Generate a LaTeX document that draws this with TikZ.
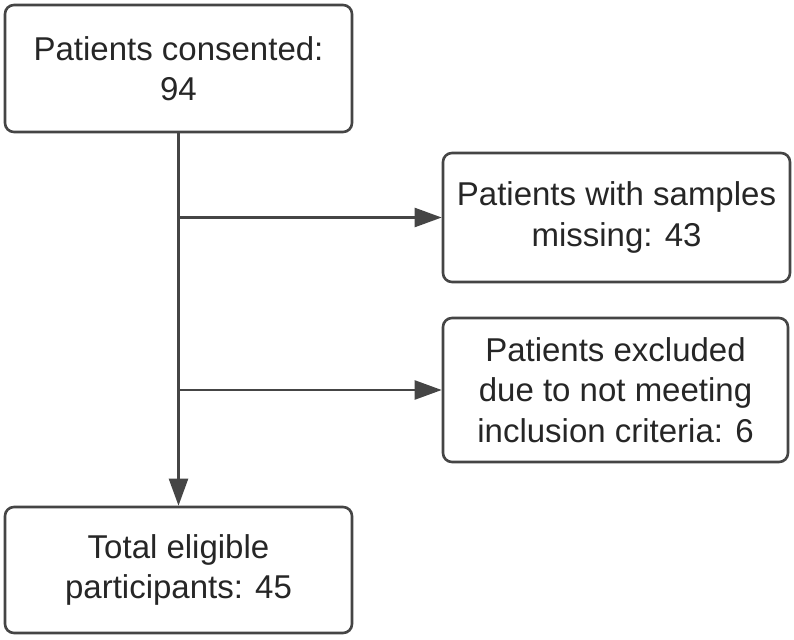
\documentclass[tikz,border=0pt]{standalone}
\usepackage{fontspec}
\setmainfont{Liberation Sans}
\usetikzlibrary{arrows.meta}
\definecolor{linegray}{HTML}{454545}
\definecolor{textgray}{HTML}{262626}
\begin{document}
\begin{tikzpicture}
        [x=1pt,y=-1pt,
         box/.style={draw=linegray,line width=2.6pt,rounded corners=9pt,
           align=center,text=textgray,inner sep=0pt,
           font=\fontsize{33}{40.5}\selectfont},
         arr/.style={draw=linegray,line width=2.4pt,
           -{Triangle[length=27pt,width=19pt]}}]
        \useasboundingbox (0,0) rectangle (794,639);

        \node[box,minimum width=347pt,minimum height=127pt] (consent) at (178.5,68.5)
          {Patients consented:\\94};
        \node[box,minimum width=347pt,minimum height=129pt] (missing) at (616.5,217.5)
          {Patients with samples\\missing: 43};
        \node[box,minimum width=345pt,minimum height=144pt] (excluded) at (615.5,390)
          {Patients excluded\\due to not meeting\\inclusion criteria: 6};
        \node[box,minimum width=347pt,minimum height=126pt] (eligible) at (178.5,570)
          {Total eligible\\participants: 45};

        \draw[arr] (consent) -- (eligible);
        \draw[arr] (consent.south |- missing.west) -- (missing.west);
        \draw[arr] (consent.south |- excluded.west) -- (excluded.west);
      \end{tikzpicture}
\end{document}
